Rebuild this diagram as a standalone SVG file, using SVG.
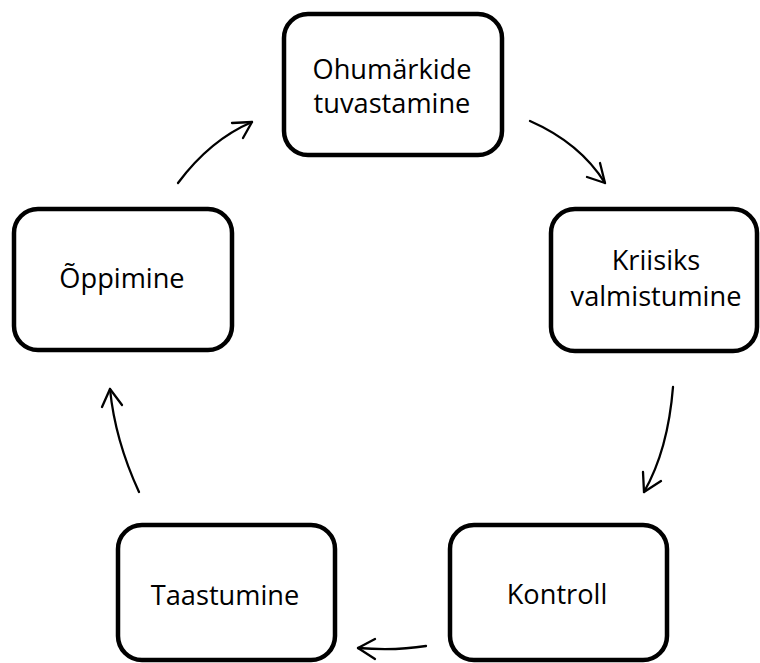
<svg xmlns="http://www.w3.org/2000/svg" width="760" height="663" viewBox="0 0 760 663">
<style>
.box{fill:#fff;stroke:#000;stroke-width:4.5}
.lbl{font-family:"Open Sans","Noto Sans",sans-serif;font-size:27.2px;fill:#000;text-anchor:middle}
.arr{fill:none;stroke:#000;stroke-width:2.3;stroke-linecap:round;stroke-linejoin:round}
</style>
<rect width="760" height="663" fill="#fff"/>
<g id="connectors">
<g id="c1"><path class="arr" d="M530,121 Q580,143 605,183"/><path class="arr" d="M587,177 L605,183 L600,163"/></g>
<g id="c2"><path class="arr" d="M673,387 Q668,450 644,492"/><path class="arr" d="M643,472 L644,492 L661,481"/></g>
<g id="c3"><path class="arr" d="M426,646 Q395,651 358,648"/><path class="arr" d="M375,639 L358,648 L375,659"/></g>
<g id="c4"><path class="arr" d="M139,492 Q115,440 110,389"/><path class="arr" d="M102,407 L110,389 L122,405"/></g>
<g id="c5"><path class="arr" d="M178,183 Q210,140 252,122"/><path class="arr" d="M232,123 L252,122 L243,138"/></g>
</g>
<g id="n1"><rect class="box" x="284" y="14" width="218" height="141" rx="24"/><text class="lbl" x="392" y="79">Ohumärkide</text><text class="lbl" x="392" y="113">tuvastamine</text></g>
<g id="n2"><rect class="box" x="551" y="209" width="206" height="142" rx="24"/><text class="lbl" x="656" y="270">Kriisiks</text><text class="lbl" x="656" y="306">valmistumine</text></g>
<g id="n3"><rect class="box" x="450" y="525" width="217" height="135" rx="24"/><text class="lbl" x="557" y="604">Kontroll</text></g>
<g id="n4"><rect class="box" x="118" y="525" width="217" height="135" rx="24"/><text class="lbl" x="225" y="605">Taastumine</text></g>
<g id="n5"><rect class="box" x="14" y="209" width="218" height="141" rx="24"/><text class="lbl" x="122" y="288">Õppimine</text></g>
</svg>
